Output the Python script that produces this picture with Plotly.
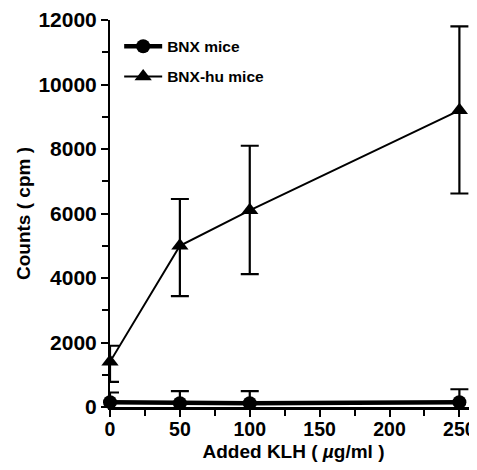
import plotly.graph_objects as go

klh = [0, 50, 100, 250]
bnx_vals = [150, 120, 120, 150]
bnx_err_plus = [300, 370, 370, 400]
bnx_err_minus = [330, 400, 380, 400]
hu_vals = [1400, 5000, 6100, 9200]
hu_err_plus = [500, 1450, 2000, 2600]
hu_err_minus = [620, 1560, 1980, 2580]
y_ticks = [0, 2000, 4000, 6000, 8000, 10000, 12000]
x_ticks = [0, 50, 100, 150, 200, 250]

FONT = "Liberation Sans"

fig = go.Figure()
fig.add_trace(go.Scatter(
    x=klh, y=bnx_vals, name="BNX mice", mode="lines+markers", legendgroup="a",
    line=dict(color="black", width=4.5),
    marker=dict(symbol="circle", size=14, color="black"),
    error_y=dict(type="data", array=bnx_err_plus, arrayminus=bnx_err_minus,
                 color="black", thickness=2.2, width=9),
    cliponaxis=False,
))
fig.add_trace(go.Scatter(
    x=klh, y=hu_vals, name="BNX-hu mice", mode="lines+markers", legendgroup="b",
    line=dict(color="black", width=2),
    marker=dict(symbol="triangle-up", size=15, color="black"),
    error_y=dict(type="data", array=hu_err_plus, arrayminus=hu_err_minus,
                 color="black", thickness=2.2, width=9),
    cliponaxis=False,
))

fig.update_layout(
    width=469, height=454,
    margin=dict(l=102, r=0, t=12, b=55),
    plot_bgcolor="white", paper_bgcolor="white",
    font=dict(family=FONT, color="black"),
    showlegend=True,
    legend=dict(x=0.025, y=0.975, xanchor="left", yanchor="top",
                bgcolor="rgba(0,0,0,0)", font=dict(size=15.5, family=FONT, weight="bold"),
                itemwidth=38, tracegroupgap=7),
    xaxis=dict(range=[0, 262.6], tickvals=x_ticks, automargin=False,
               ticklabeloverflow="allow", ticklabelstandoff=-4,
               showline=True, linecolor="black", linewidth=2.5,
               ticks="outside", ticklen=7, tickwidth=2, tickcolor="black",
               minor=dict(tickvals=[25, 75, 125, 175, 225], ticks="outside",
                          ticklen=6, tickwidth=2, tickcolor="black"),
               showgrid=False, zeroline=False,
               tickfont=dict(size=19.5, family=FONT, weight="bold"),
               title=dict(text="Added KLH ( <i>µ</i>g/ml )", standoff=8,
                          font=dict(size=19, family=FONT, weight="bold"))),
    yaxis=dict(range=[0, 12000], tickvals=y_ticks, ticktext=[str(v) for v in y_ticks],
               automargin=False,
               showline=True, linecolor="black", linewidth=2,
               ticks="outside", ticklen=7, tickwidth=2, tickcolor="black",
               minor=dict(tickvals=list(range(1000, 12000, 2000)), ticks="outside",
                          ticklen=6, tickwidth=2, tickcolor="black"),
               showgrid=False, zeroline=False,
               tickfont=dict(size=21, family=FONT, weight="bold"),
               title=dict(text="Counts ( cpm )", standoff=3,
                          font=dict(size=19, family=FONT, weight="bold"))),
)

fig.write_html("out.html")
